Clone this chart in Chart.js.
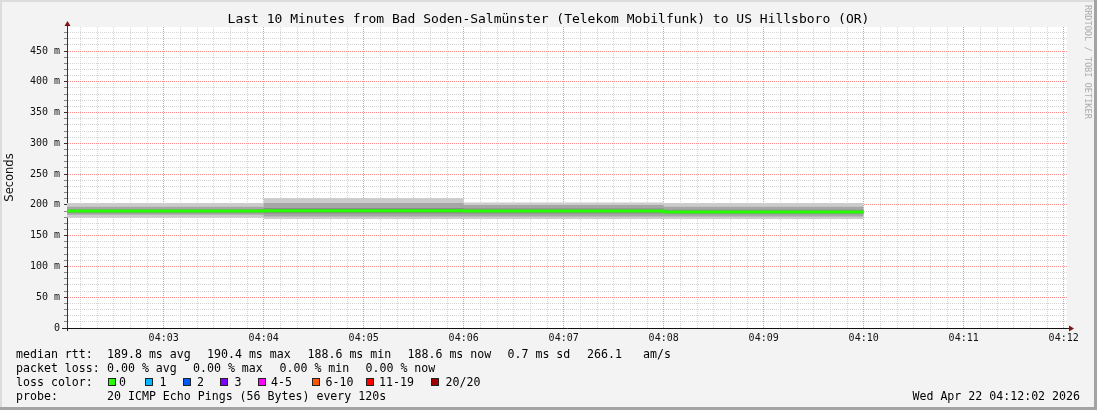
<!DOCTYPE html>
<html>
<head>
<meta charset="utf-8">
<script src="https://cdn.jsdelivr.net/npm/chart.js@4.4.1/dist/chart.umd.min.js"></script>
<style>
html,body{margin:0;padding:0;background:#f3f3f3;}
#wrap{position:relative;width:1097px;height:410px;overflow:hidden;background:#f3f3f3;}
#wrap canvas{position:absolute;left:0;top:0;}
.edge{position:absolute;}
.t{position:absolute;font-family:"DejaVu Sans Mono",monospace;font-size:11.6px;line-height:14px;height:14px;color:#000;white-space:pre;}
#title{position:absolute;left:0;width:1097px;top:11px;text-align:center;font-family:"DejaVu Sans Mono",monospace;font-size:13px;line-height:16px;color:#000;white-space:pre;}
#credit{position:absolute;left:1083px;top:5px;writing-mode:vertical-rl;font-family:"DejaVu Sans Mono",monospace;font-size:8.6px;color:#adadad;white-space:pre;}
.box{position:absolute;width:6px;height:6px;border:1px solid #222;}
</style>
</head>
<body>
<div id="wrap">
  <canvas id="c" width="1097" height="410"></canvas>
  <div id="title">Last 10 Minutes from Bad Soden-Salmünster (Telekom Mobilfunk) to US Hillsboro (OR)</div>
  <div id="credit">RRDTOOL / TOBI OETIKER</div>
  <div class="edge" style="left:0;top:0;width:1097px;height:2px;background:#dcdcdc"></div>
  <div class="edge" style="left:0;top:0;width:2px;height:410px;background:#dcdcdc"></div>
  <div class="edge" style="left:0;top:407px;width:1097px;height:3px;background:#a3a3a3"></div>
  <div class="edge" style="left:1094px;top:0;width:3px;height:410px;background:#a3a3a3"></div>
</div>
<script>
// ---- data (sample boundaries as clock times) ----
const sampleTimes = ['04:02:02', '04:04:00', '04:06:00', '04:08:00', '04:10:00'];
const medianRtt      = [190.0, 190.4, 190.2, 188.6];
const smokeOuterLow  = [179, 177, 177, 177];
const smokeOuterHigh = [203, 211, 204, 203];
const smokeMidLow    = [184, 181, 181, 181];
const smokeMidHigh   = [197, 203, 200, 197];
const smokeInnerLow  = [187, 186, 186, 185];
const smokeInnerHigh = [193, 195, 194, 192];
const timeTickLabels = ['04:03','04:04','04:05','04:06','04:07','04:08','04:09','04:10','04:11','04:12'];
const yTickLabels = ['0','50 m','100 m','150 m','200 m','250 m','300 m','350 m','400 m','450 m'];
const rttStats = ['189.8 ms avg', '190.4 ms max', '188.6 ms min', '188.6 ms now', '0.7 ms sd', '266.1', 'am/s'];
const lossStats = ['0.00 % avg', '0.00 % max', '0.00 % min', '0.00 % now'];
const lossLabels = ['0', '1', '2', '3', '4-5', '6-10', '11-19', '20/20'];
const lossColors = ['#26ff00', '#00b8ff', '#0059ff', '#7e00ff', '#ff00ff', '#ff5500', '#ff0000', '#a10000'];
const probeText = '20 ICMP Echo Pings (56 Bytes) every 120s';
const stampText = 'Wed Apr 22 04:12:02 2026';

const toSec = s => { const p = s.split(':').map(Number); return (p[0] - 4) * 3600 + p[1] * 60 + (p[2] || 0); };
const xs = sampleTimes.map(toSec);
const steps = arr => xs.map((x, i) => ({x, y: arr[Math.min(i, arr.length - 1)]}));

// ---- legend text (HTML) ----
const wrap = document.getElementById('wrap');
function txt(s, x, cy, right) {
  const d = document.createElement('div');
  d.className = 't'; d.textContent = s;
  d.style.top = (cy - 7) + 'px';
  if (right) { d.style.right = (1097 - x) + 'px'; } else { d.style.left = x + 'px'; }
  wrap.appendChild(d);
}
txt('median rtt:', 16, 354);
[107, 207, 307.5, 407.5, 507.5, 587, 643].forEach((x, i) => txt(rttStats[i], x, 354));
txt('packet loss:', 16, 368);
[107, 193, 279.5, 365.5].forEach((x, i) => txt(lossStats[i], x, 368));
txt('loss color:', 16, 382);
[108, 145, 182.5, 220, 258, 312, 366, 431].forEach((x, i) => {
  const b = document.createElement('div');
  b.className = 'box'; b.style.left = Math.round(x) + 'px'; b.style.top = '378px';
  b.style.background = lossColors[i]; wrap.appendChild(b);
});
[119, 159.5, 197, 234.5, 271, 325.5, 379, 445.5].forEach((x, i) => txt(lossLabels[i], x, 382));
txt('probe:', 16, 396);
txt(probeText, 107, 396);
txt(stampText, 1080, 396, true);

// ---- plugins ----
const plotBg = {
  id: 'plotBg',
  beforeDraw(chart) {
    const {ctx, chartArea: a} = chart;
    ctx.save(); ctx.fillStyle = '#ffffff';
    ctx.fillRect(a.left, a.top, a.right - a.left, a.bottom - a.top);
    ctx.restore();
  }
};
const axisArrows = {
  id: 'axisArrows',
  afterDraw(chart) {
    const {ctx, chartArea: a} = chart;
    const ax = Math.round(a.left) + 0.5, ay = Math.round(a.bottom) + 0.5;
    ctx.save();
    ctx.strokeStyle = '#222'; ctx.lineWidth = 1;
    ctx.beginPath();
    ctx.moveTo(ax, a.top); ctx.lineTo(ax, a.top - 2);
    ctx.moveTo(a.left - 5, ay); ctx.lineTo(a.left, ay);
    ctx.moveTo(a.right, ay); ctx.lineTo(a.right + 3, ay);
    ctx.moveTo(ax, a.bottom); ctx.lineTo(ax, a.bottom + 3);
    ctx.stroke();
    ctx.fillStyle = '#7f1414';
    ctx.beginPath();
    ctx.moveTo(ax, a.top - 6); ctx.lineTo(ax - 3, a.top - 1); ctx.lineTo(ax + 3, a.top - 1); ctx.closePath(); ctx.fill();
    ctx.beginPath();
    ctx.moveTo(a.right + 7, ay); ctx.lineTo(a.right + 2, ay - 3); ctx.lineTo(a.right + 2, ay + 3); ctx.closePath(); ctx.fill();
    ctx.restore();
  }
};

// ---- datasets ----
const band = (lo, hi, color, order) => ([
  {data: steps(lo), stepped: true, borderWidth: 0, pointRadius: 0, fill: false, order, borderColor: 'transparent'},
  {data: steps(hi), stepped: true, borderWidth: 0, pointRadius: 0, fill: '-1', backgroundColor: color, order, borderColor: 'transparent'}
]);
const datasets = [
  ...band(smokeOuterLow, smokeOuterHigh, '#cccccc', 3),
  ...band(smokeMidLow, smokeMidHigh, '#a6a6a6', 2),
  ...band(smokeInnerLow, smokeInnerHigh, '#8a8a8a', 1),
  {data: steps(medianRtt), stepped: true, borderWidth: 3, borderColor: '#26ff00', pointRadius: 0, fill: false, order: 0, borderCapStyle: 'butt'}
];

const MAJOR = 'rgba(255,90,90,0.7)';
const MINOR = 'rgba(185,185,185,0.6)';
const xTickVals = []; for (let v = 130; v <= 720; v += 10) xTickVals.push(v);
const yTickVals = []; for (let v = 0; v <= 480; v += 10) yTickVals.push(v);
const xGridColors = xTickVals.map(v => v % 60 === 0 ? MAJOR : MINOR);
const yGridColors = yTickVals.map(v => v % 50 === 0 ? MAJOR : MINOR);
const yTickColors = yTickVals.map(v => v % 50 === 0 ? '#333' : '#888');

new Chart(document.getElementById('c'), {
  type: 'line',
  data: {datasets},
  plugins: [plotBg, axisArrows],
  options: {
    responsive: false,
    animation: false,
    devicePixelRatio: 1,
    layout: {padding: {left: 0, right: 30, top: 27, bottom: 62}},
    plugins: {legend: {display: false}, tooltip: {enabled: false}, title: {display: false}},
    scales: {
      x: {
        type: 'linear', min: 122, max: 722,
        afterFit: s => { s.height = 20; },
        afterBuildTicks: s => { s.ticks = xTickVals.map(v => ({value: v})); },
        grid: {drawTicks: false, color: xGridColors, lineWidth: 1},
        border: {display: true, color: '#111', width: 1, dash: [1, 1]},
        ticks: {
          autoSkip: false, maxRotation: 0, padding: 4, color: '#111',
          font: {family: 'DejaVu Sans Mono', size: 10},
          callback: v => (v % 60 === 0) ? (timeTickLabels[v / 60 - 3] || '') : ''
        }
      },
      y: {
        type: 'linear', min: 0, max: 489,
        afterFit: s => { s.width = 67; },
        afterBuildTicks: s => { s.ticks = yTickVals.map(v => ({value: v})); },
        grid: {drawTicks: true, tickLength: 3, tickColor: yTickColors, color: yGridColors, lineWidth: 1},
        border: {display: true, color: '#333', width: 1, dash: [1, 1]},
        title: {display: true, text: 'Seconds', color: '#111', padding: {top: 3, bottom: 0}, font: {family: 'DejaVu Sans', size: 11.5}},
        ticks: {
          autoSkip: false, padding: 4, color: '#111',
          font: {family: 'DejaVu Sans Mono', size: 10},
          callback: v => (v % 50 === 0) ? (yTickLabels[v / 50] || '') : ''
        }
      }
    }
  }
});
</script>
</body>
</html>
